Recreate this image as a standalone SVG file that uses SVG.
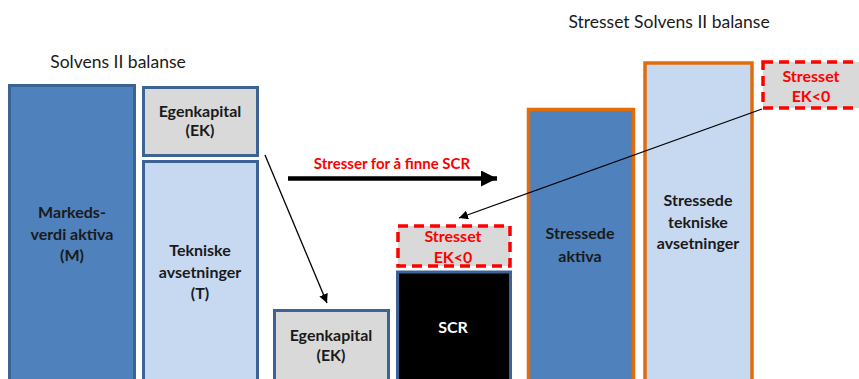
<svg xmlns="http://www.w3.org/2000/svg" width="859" height="379" viewBox="0 0 859 379">
<defs>
<style>
text{font-family:Lato,"Open Sans","Liberation Sans",sans-serif;text-anchor:middle}
.t{font-size:17.5px;fill:#1a1a1a}
.b{font-size:16px;font-weight:bold;fill:#1a1a1a}
.r{font-size:16px;font-weight:bold;fill:#ff0000}
.blue{fill:#4f81bd;stroke:#3d6394;stroke-width:3}
.lb{fill:#c6d9f1;stroke:#3d6394;stroke-width:3}
.gr{fill:#d9d9d9;stroke:#3d6394;stroke-width:3}
.blk{fill:#000;stroke:#3d6394;stroke-width:3}
.ob{fill:#4f81bd;stroke:#e36c0a;stroke-width:3.5}
.olb{fill:#c6d9f1;stroke:#e36c0a;stroke-width:3.5}
.dash{fill:#d9d9d9;stroke:#ff0000;stroke-width:3.5;stroke-dasharray:10 6}
</style>
<marker id="ah" viewBox="0 0 10 10" refX="10" refY="5" markerWidth="9" markerHeight="9" markerUnits="userSpaceOnUse" orient="auto"><path d="M0,0 L10,5 L0,10 z" fill="#000"/></marker>
<marker id="ahb" viewBox="0 0 10 10" refX="10" refY="5" markerWidth="16" markerHeight="16" markerUnits="userSpaceOnUse" orient="auto"><path d="M0,0 L10,5 L0,10 z" fill="#000"/></marker>
</defs>
<rect width="859" height="379" fill="#fff"/>
<text class="t" x="118" y="68">Solvens II balanse</text>
<text class="t" x="669" y="28">Stresset Solvens II balanse</text>

<g id="markedsverdi">
<rect class="blue" x="9.5" y="85.5" width="125" height="300"/>
<text class="b" x="72" y="218">Markeds-</text>
<text class="b" x="72" y="240">verdi aktiva</text>
<text class="b" x="72" y="261">(M)</text>
</g>
<g id="egenkapital">
<rect class="gr" x="143.5" y="87.5" width="114" height="68"/>
<text class="b" x="200" y="117">Egenkapital</text>
<text class="b" x="200" y="136">(EK)</text>
</g>
<g id="tekniske">
<rect class="lb" x="143.5" y="161.5" width="114" height="224"/>
<text class="b" x="200" y="256">Tekniske</text>
<text class="b" x="200" y="278">avsetninger</text>
<text class="b" x="200" y="299">(T)</text>
</g>
<g id="egenkapital2">
<rect class="gr" x="274.5" y="310.5" width="114" height="75"/>
<text class="b" x="331" y="341">Egenkapital</text>
<text class="b" x="331" y="361">(EK)</text>
</g>
<g id="scr">
<rect class="blk" x="397.5" y="272" width="113" height="113"/>
<text class="b" x="453" y="333" style="fill:#fff">SCR</text>
</g>
<g id="stresset1">
<rect class="dash" x="398" y="226" width="112" height="40"/>
<text class="r" x="453" y="242">Stresset</text>
<text class="r" x="453" y="263">EK&lt;0</text>
</g>
<g id="stressede-aktiva">
<rect class="ob" x="528.5" y="109.5" width="105" height="276"/>
<text class="b" x="580" y="239">Stressede</text>
<text class="b" x="580" y="262">aktiva</text>
</g>
<g id="stressede-tekniske">
<rect class="olb" x="645" y="63" width="107" height="322"/>
<text class="b" x="698" y="206">Stressede</text>
<text class="b" x="698" y="228">tekniske</text>
<text class="b" x="698" y="249">avsetninger</text>
</g>
<g id="stresset2">
<rect class="dash" x="763" y="62" width="102" height="46"/>
<text class="r" x="811" y="82">Stresset</text>
<text class="r" x="811" y="102">EK&lt;0</text>
</g>

<g id="connectors">
<line x1="265" y1="155" x2="327" y2="303" stroke="#000" stroke-width="1.3" marker-end="url(#ah)"/>
<line x1="288" y1="178.5" x2="497" y2="178.5" stroke="#000" stroke-width="4.5" marker-end="url(#ahb)"/>
<text class="r" x="392" y="169" style="font-size:15px">Stresser for å finne SCR</text>
<line x1="762" y1="109" x2="459" y2="218" stroke="#000" stroke-width="1.3" marker-end="url(#ah)"/>
</g>
</svg>
